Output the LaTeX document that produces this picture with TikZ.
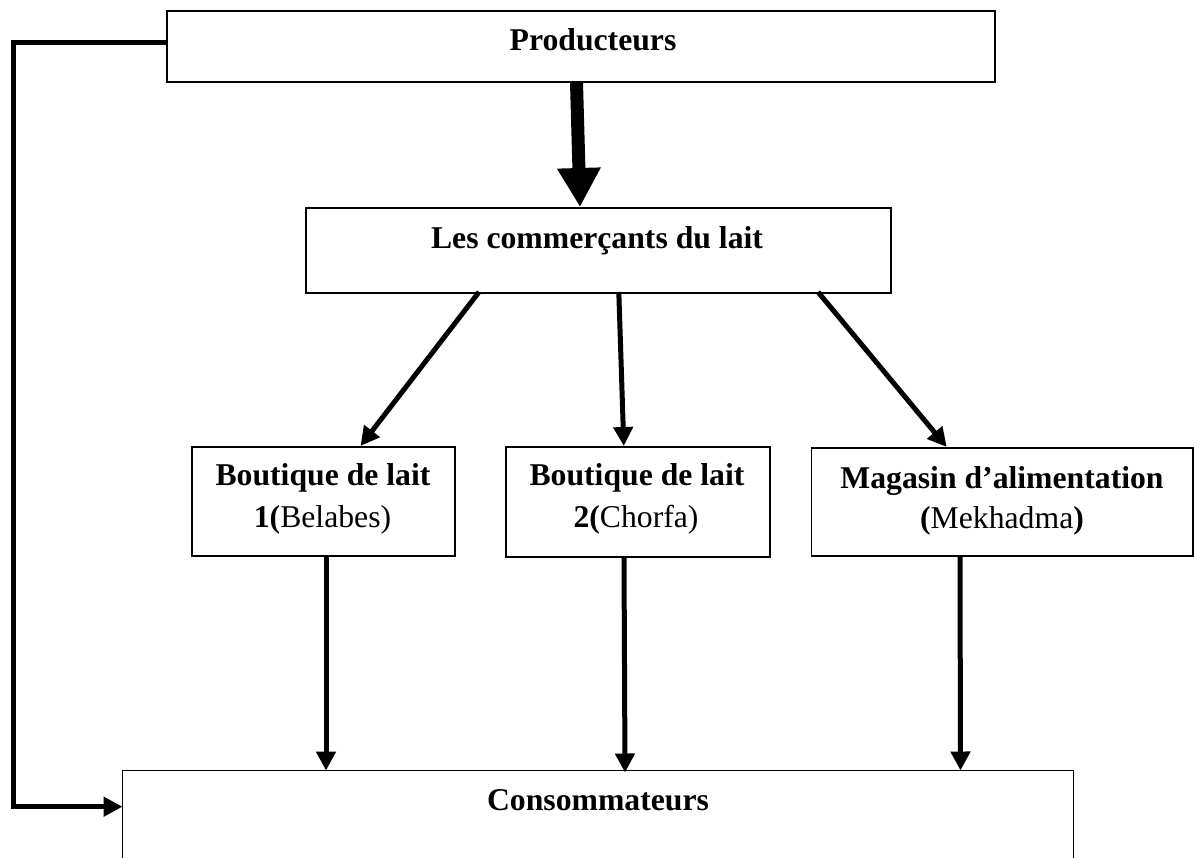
\documentclass[tikz,border=0pt]{standalone}
\usepackage{fontspec}
\setmainfont{Liberation Serif}
\usetikzlibrary{arrows.meta}
\tikzset{
  box/.style={draw=black, line width=1.5pt, fill=none, inner sep=0pt, anchor=north west},
  lbl/.style={inner sep=0pt, anchor=base, font=\fontsize{31.7}{36}\selectfont},
  conn/.style={line width=5pt, -{Triangle[width=19pt,length=19pt]}},
  bigconn/.style={line width=13pt, -{Triangle[width=41pt,length=39pt]}},
}
\begin{document}
\begin{tikzpicture}[x=1pt,y=-1pt]
\useasboundingbox (0,0) rectangle (1194,857);
% boxes
\node[box, minimum width=828pt, minimum height=71pt] (prod) at (166,10) {};
\node[box, minimum width=585pt, minimum height=85pt] (comm) at (305,207) {};
\node[box, minimum width=263pt, minimum height=109pt] (b1) at (191,446) {};
\node[box, minimum width=264pt, minimum height=110pt] (b2) at (505,446) {};
\node[box, minimum width=381.5pt, minimum height=108pt] (mag) at (810.5,447) {};
\node[inner sep=0pt, anchor=north west, minimum width=951pt, minimum height=87pt] (cons) at (122.5,770.5) {};
\draw[line width=1pt] (cons.south west) |- (cons.north east) -- (cons.south east);
% texts
\node[lbl] (prodt) at (593,50) {\textbf{Producteurs}};
\node[lbl] (commt) at (597,248) {\textbf{Les commerçants du lait}};
\node[lbl] (b1a) at (323,485) {\textbf{Boutique de lait}};
\node[lbl] (b1b) at (322.5,527) {\textbf{1(}Belabes)};
\node[lbl] (b2a) at (637,485) {\textbf{Boutique de lait}};
\node[lbl] (b2b) at (636,527) {\textbf{2(}Chorfa)};
\node[lbl] (maga) at (1002,488) {\textbf{Magasin d’alimentation}};
\node[lbl] (magb) at (1002,528) {\textbf{(}Mekhadma\textbf{)}};
\node[lbl] (const) at (598,810.5) {\textbf{Consommateurs}};
% helper coordinates
\coordinate (lftTop) at (13.4,42.7);
\coordinate (lftBot) at (13.4,806.7);
\coordinate (c1) at (479,292);
\coordinate (c2) at (618.8,292);
\coordinate (c3) at (818,292);
\coordinate (t1) at (360.5,446);
\coordinate (t2) at (623.8,446);
\coordinate (t3) at (946.7,447);
% connectors
\draw[bigconn] (prod.south -| 576.5,0) -- (comm.north -| 580,0);
\draw[conn] (c1) -- (t1);
\draw[conn] (c2) -- (t2);
\draw[conn] (c3) -- (t3);
\draw[conn] (b1.south -| 326,0) -- (cons.north -| 326,0);
\draw[conn] (b2.south -| 624,0) -- ([yshift=-2pt]cons.north -| 625,0);
\draw[conn] (mag.south -| 960,0) -- (cons.north -| 960.5,0);
\draw[line width=5pt, -{Triangle[width=19pt,length=19pt]}] (lftTop -| prod.west) -- (lftTop) -- (lftBot) -- (lftBot -| cons.west);
\end{tikzpicture}
\end{document}
